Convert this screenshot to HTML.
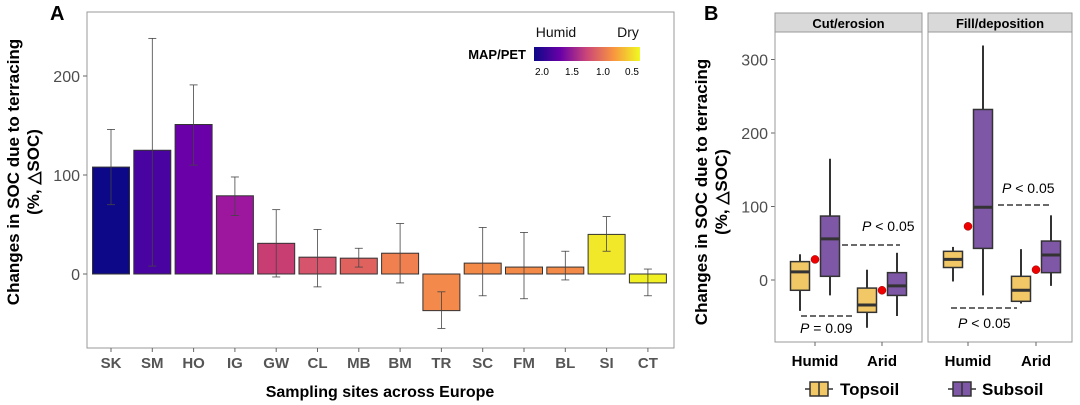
<!DOCTYPE html>
<html><head><meta charset="utf-8"><style>
body{margin:0;background:#fff;width:1080px;height:405px;overflow:hidden}
svg{display:block;font-family:"Liberation Sans",sans-serif}
</style></head><body>
<svg id="c" width="1080" height="405">
<defs><linearGradient id="pg" x1="0" x2="1"><stop offset="0" stop-color="#0d0887"/><stop offset="0.25" stop-color="#6a00a8"/><stop offset="0.5" stop-color="#cc4778"/><stop offset="0.75" stop-color="#f89540"/><stop offset="1" stop-color="#f0f921"/></linearGradient></defs>
<text x="50" y="20" font-size="20" font-weight="bold">A</text>
<rect x="87" y="12" width="587" height="336" fill="none" stroke="#999"/>
<g id="ga"></g>
<text transform="translate(19,172) rotate(-90)" text-anchor="middle" font-size="17" font-weight="bold">Changes in SOC due to terracing</text>
<text transform="translate(39,172) rotate(-90)" text-anchor="middle" font-size="17" font-weight="bold">(%, △SOC)</text>
<text x="380" y="397" text-anchor="middle" font-size="16" font-weight="bold">Sampling sites across Europe</text>
<g>
<text x="556" y="37" text-anchor="middle" font-size="14" fill="#111">Humid</text>
<text x="628" y="37" text-anchor="middle" font-size="14" fill="#111">Dry</text>
<text x="526" y="59" text-anchor="end" font-size="13" font-weight="bold">MAP/PET</text>
<rect x="534" y="47" width="106" height="14" fill="url(#pg)"/>
<text x="542" y="75" text-anchor="middle" font-size="10">2.0</text><text x="572" y="75" text-anchor="middle" font-size="10">1.5</text><text x="603" y="75" text-anchor="middle" font-size="10">1.0</text><text x="632" y="75" text-anchor="middle" font-size="10">0.5</text>
</g>
<text x="704" y="20" font-size="20" font-weight="bold">B</text>
<g id="gb"></g>
<text transform="translate(707,192) rotate(-90)" text-anchor="middle" font-size="17" font-weight="bold">Changes in SOC due to terracing</text>
<text transform="translate(727,192) rotate(-90)" text-anchor="middle" font-size="17" font-weight="bold">(%, △SOC)</text>
<g><line x1="805" y1="389" x2="833" y2="389" stroke="#333" stroke-width="1.5"/><rect x="810" y="382" width="18" height="14" fill="#f2c867" stroke="#333" stroke-width="1.5"/><line x1="819" y1="382" x2="819" y2="396" stroke="#333" stroke-width="1.5"/><text x="840" y="395" font-size="17" font-weight="bold">Topsoil</text></g>
<g><line x1="948" y1="389" x2="976" y2="389" stroke="#333" stroke-width="1.5"/><rect x="953" y="382" width="18" height="14" fill="#7e58a6" stroke="#333" stroke-width="1.5"/><line x1="962" y1="382" x2="962" y2="396" stroke="#333" stroke-width="1.5"/><text x="982" y="395" font-size="17" font-weight="bold">Subsoil</text></g>
</svg>
<script>
const sites=["SK","SM","HO","IG","GW","CL","MB","BM","TR","SC","FM","BL","SI","CT"];
const means=[108,125,151,79,31,17,16,21,-37,11,7,7,40,-9];
const errLo=[70,8,110,59,-3,-13,7,-9,-55,-22,-25,-6,23,-22];
const errHi=[146,238,191,98,65,45,26,51,-18,47,42,23,58,5];
const colors=["#0d0887","#4903a0","#6a00a8","#9c179e","#c83e73","#d6556d","#e0625f","#f0804f","#f3894a","#f48a48","#f48a48","#f48a48","#f0e828","#f0f024"];
const ticksA=[0,100,200];
const NS="http://www.w3.org/2000/svg";
function mk(p,t,a){const e=document.createElementNS(NS,t);for(const k in a)e.setAttribute(k,a[k]);p.appendChild(e);return e;}
const ya=v=>274-v*0.99, xa=i=>111+i*41.3;
const ga=document.getElementById('ga');
ticksA.forEach(t=>{const l=mk(ga,'line',{x1:83,x2:87,y1:ya(t),y2:ya(t),stroke:'#666'});


const tx=mk(ga,'text',{x:80,y:ya(t)+6,'text-anchor':'end','font-size':16,fill:'#4d4d4d'});tx.textContent=t;

});
sites.forEach((s,i)=>{const x=xa(i),v=means[i];
const r=mk(ga,'rect',{x:x-18.5,y:Math.min(ya(v),ya(0)),width:37,height:Math.abs(ya(v)-ya(0)),fill:colors[i],stroke:'#333','stroke-width':1});


const g=mk(ga,'g',{stroke:'#444','stroke-width':0.8});


mk(g,'line',{x1:x,x2:x,y1:ya(errLo[i]),y2:ya(errHi[i])});
mk(g,'line',{x1:x-4,x2:x+4,y1:ya(errLo[i]),y2:ya(errLo[i])});
mk(g,'line',{x1:x-4,x2:x+4,y1:ya(errHi[i]),y2:ya(errHi[i])});
mk(ga,'line',{x1:x,x2:x,y1:348,y2:352,stroke:'#666'});
const t=mk(ga,'text',{x:x,y:368,'text-anchor':'middle','font-size':15,'font-weight':'bold',fill:'#555'});t.textContent=s;

});
// Panel B
const facets=["Cut/erosion","Fill/deposition"];
const groups=["Humid","Arid"];
const ticksB=[0,100,200,300];
const topsoil=[[[-42,-14,11,25,35],[-65,-44,-34,-11,14]],[[-2,17,28,39,45],[-32,-29,-14,5,42]]];
const subsoil=[[[-21,5,56,87,165],[-49,-21,-8,10,37]],[[-21,43,99,232,319],[-8,10,34,53,88]]];
const meanDots=[[28,-14],[73,14]];
const yb=v=>280-v*0.735;
const gb=document.getElementById('gb');
const px=[[775,922],[928,1072]];
const gx=[[815,882],[968,1036]];
ticksB.forEach(t=>{const tx=mk(gb,'text',{x:768,y:yb(t)+6,'text-anchor':'end','font-size':16,fill:'#4d4d4d'});tx.textContent=t;


mk(gb,'line',{x1:771,x2:775,y1:yb(t),y2:yb(t),stroke:'#666'});});
function box(x,q,fill,name){const g=mk(gb,'g',{stroke:'#333','stroke-width':2});


mk(g,'line',{x1:x,x2:x,y1:yb(q[0]),y2:yb(q[4])});
mk(g,'rect',{x:x-9.5,y:yb(q[3]),width:19,height:yb(q[1])-yb(q[3]),fill:fill,'stroke-width':1.5});
mk(g,'line',{x1:x-9.5,x2:x+9.5,y1:yb(q[2]),y2:yb(q[2]),'stroke-width':3});}
facets.forEach((f,fi)=>{const [x0,x1]=px[fi];
const fr=mk(gb,'rect',{x:x0,y:32,width:x1-x0,height:310,fill:'none',stroke:'#999'});


const st=mk(gb,'rect',{x:x0,y:13,width:x1-x0,height:19,fill:'#d9d9d9',stroke:'#999'});


const tt=mk(gb,'text',{x:(x0+x1)/2,y:28,'text-anchor':'middle','font-size':13,'font-weight':'bold'});tt.textContent=f;


groups.forEach((g,gi)=>{const cx=gx[fi][gi];
mk(gb,'line',{x1:cx,x2:cx,y1:342,y2:346,stroke:'#666'});
const lt=mk(gb,'text',{x:cx,y:366,'text-anchor':'middle','font-size':15,'font-weight':'bold'});lt.textContent=g;


box(cx-15,topsoil[fi][gi],'#f2c867','box-topsoil');
box(cx+15,subsoil[fi][gi],'#7e58a6','box-subsoil');
const d=mk(gb,'circle',{cx:cx,cy:yb(meanDots[fi][gi]),r:4,fill:'#e00',stroke:'#900','stroke-width':0.5});

});});
const ann=[[842,900,245,862,231,"< 0.05"],[801,853,316,800,333,"= 0.09"],[998,1051,205,1002,193,"< 0.05"],[951,1017,308,958,328,"< 0.05"]];
ann.forEach(a=>{const l=mk(gb,'line',{x1:a[0],x2:a[1],y1:a[2],y2:a[2],stroke:'#111','stroke-width':1.2,'stroke-dasharray':'6,3'});


const t=mk(gb,'text',{x:a[3],y:a[4],'font-size':14});


const i=mk(t,'tspan',{'font-style':'italic'});i.textContent='P';
const r=mk(t,'tspan',{});r.textContent=' '+a[5];});
</script>
</body></html>
